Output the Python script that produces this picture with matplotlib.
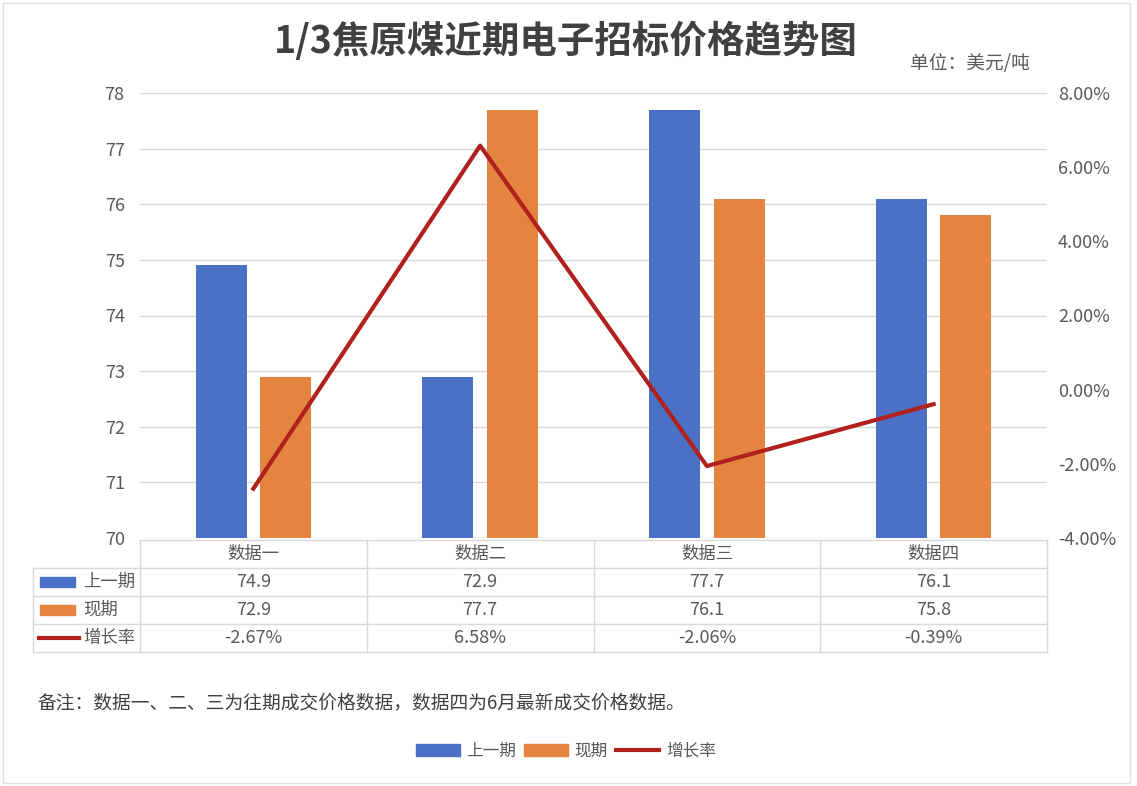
import matplotlib
matplotlib.use("Agg")
import matplotlib.pyplot as plt
from matplotlib.patches import Rectangle
from matplotlib.lines import Line2D
import matplotlib.transforms as mtransforms
import numpy as np

plt.rcParams['font.family'] = ['Noto Sans CJK SC', 'DejaVu Sans']

# data
categories = ["数据一", "数据二", "数据三", "数据四"]
prev_price = [74.9, 72.9, 77.7, 76.1]
curr_price = [72.9, 77.7, 76.1, 75.8]
growth = [-2.67, 6.58, -2.06, -0.39]
series_names = ["上一期", "现期", "增长率"]

BLUE = "#4A71C6"
ORANGE = "#E4843F"
RED = "#B0211D"
GRID = "#D9D9D9"
TXT = "#595959"

W, H = 1137, 786
fig = plt.figure(figsize=(W / 100, H / 100), dpi=100)

def fx(px):
    return px / W

def fy(py):
    return 1 - py / H

# plot area
ax = fig.add_axes([fx(140), fy(538), fx(1047) - fx(140), fy(93) - fy(538)])
x = np.arange(len(categories))
bw = 0.225
ax.bar(x - 0.142, prev_price, bw, color=BLUE, zorder=3)
ax.bar(x + 0.142, curr_price, bw, color=ORANGE, zorder=3)
ax.set_ylim(70, 78)
ax.set_xlim(-0.5, len(categories) - 0.5)
ax.set_yticks(range(70, 79))
ax.grid(axis="y", color=GRID, linewidth=1, zorder=0)
ax.set_xticks([])
for s in ax.spines.values():
    s.set_visible(False)
ax.tick_params(axis="y", length=0, pad=11, labelsize=13, labelcolor=TXT)

ax2 = ax.twinx()
ax2.plot(x, growth, color=RED, linewidth=3, zorder=4)
ax2.set_ylim(-4, 8)
ax2.set_yticks(range(-4, 9, 2))
ax2.set_yticklabels([f"{v:.2f}%" for v in range(-4, 9, 2)])
for s in ax2.spines.values():
    s.set_visible(False)
ax2.tick_params(axis="y", length=0, pad=8, labelsize=13, labelcolor=TXT)

# data table under the plot
row_h = 28
top = 540
tbl_left = 33
n = len(categories)
line_kw = dict(color=GRID, linewidth=1)
col_px = [140 + i * (1047 - 140) / n for i in range(n + 1)]
# horizontal lines
fig.add_artist(Line2D([fx(140), fx(1047)], [fy(top), fy(top)], **line_kw))
for r in range(1, 5):
    yy = fy(top + r * row_h)
    fig.add_artist(Line2D([fx(tbl_left), fx(1047)], [yy, yy], **line_kw))
# vertical lines
for cx in col_px:
    fig.add_artist(Line2D([fx(cx), fx(cx)], [fy(top), fy(top + 4 * row_h)], **line_kw))
fig.add_artist(Line2D([fx(tbl_left), fx(tbl_left)], [fy(top + row_h), fy(top + 4 * row_h)], **line_kw))

trans = mtransforms.blended_transform_factory(ax.transData, fig.transFigure)
rows = [
    [f"{v:.1f}" for v in prev_price],
    [f"{v:.1f}" for v in curr_price],
    [f"{v:.2f}%" for v in growth],
]
for i, c in enumerate(categories):
    fig.text(x[i], fy(top + row_h / 2), c, transform=trans, ha="center", va="center",
             fontsize=12.5, color=TXT)
    for r, vals in enumerate(rows):
        fig.text(x[i], fy(top + row_h * (r + 1.5)), vals[i], transform=trans,
                 ha="center", va="center", fontsize=13, color=TXT)

# row labels with legend keys
for r, name in enumerate(series_names):
    yc = fy(top + row_h * (r + 1.5))
    if r < 2:
        fig.add_artist(Rectangle((fx(40), yc - 5 / H), fx(35), 10 / H,
                                 color=[BLUE, ORANGE][r], transform=fig.transFigure))
    else:
        fig.add_artist(Line2D([fx(39), fx(79)], [yc, yc], color=RED, linewidth=3))
    fig.text(fx(83), yc, name, ha="left", va="center", fontsize=12.5, color=TXT)

# titles and notes
fig.text(fx(566), fy(41), "1/3焦原煤近期电子招标价格趋势图", ha="center", va="center",
         fontsize=27, fontweight="bold", color="#404040")
fig.text(fx(1030), fy(63), "单位：美元/吨", ha="right", va="center", fontsize=13.5, color=TXT)
fig.text(fx(37), fy(703), "备注：数据一、二、三为往期成交价格数据，数据四为6月最新成交价格数据。",
         ha="left", va="center", fontsize=13.5, color="#404040")

# bottom legend
handles = [Rectangle((0, 0), 1, 1, color=BLUE), Rectangle((0, 0), 1, 1, color=ORANGE),
           Line2D([], [], color=RED, linewidth=3)]
fig.legend(handles, series_names, loc="center", bbox_to_anchor=(fx(566), fy(751)), ncol=3,
           frameon=False, fontsize=12, handlelength=2.6, handleheight=0.7,
           handletextpad=0.4, columnspacing=0.5, labelcolor=TXT)

# outer border
fig.add_artist(Rectangle((fx(3), fy(783)), fx(1130) - fx(3), fy(3) - fy(783), fill=False,
                         edgecolor="#E0E0E0", linewidth=1, transform=fig.transFigure))

fig.savefig("out.png", dpi=100, facecolor="white")
